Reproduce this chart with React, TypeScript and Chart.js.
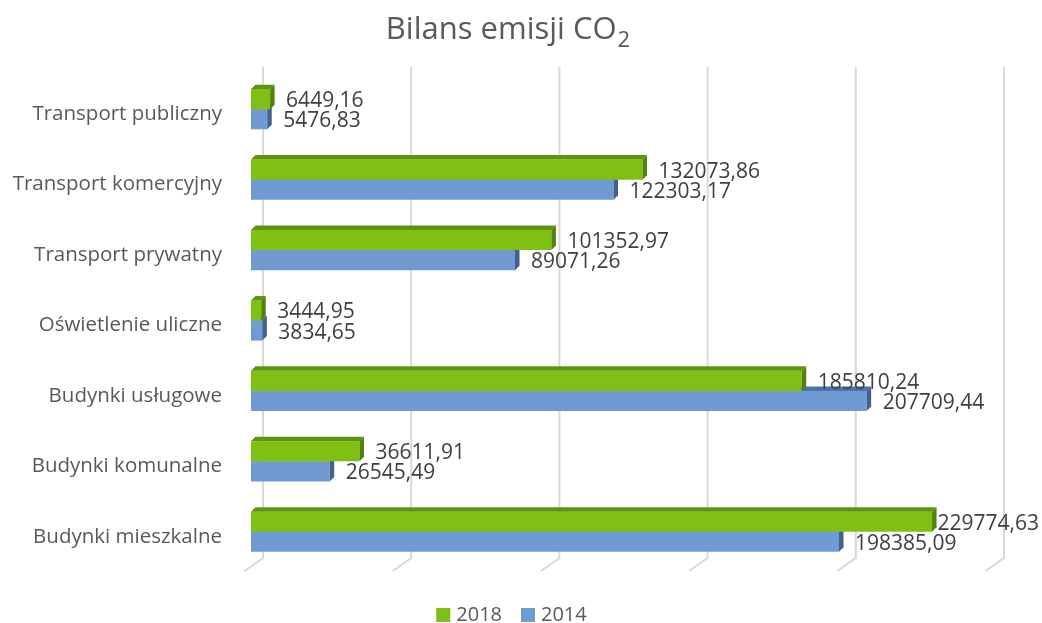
import React, { useEffect, useRef } from "react";
import { Chart, registerables } from "chart.js";

Chart.register(...registerables);

const categories = [
  "Transport publiczny",
  "Transport komercyjny",
  "Transport prywatny",
  "Oświetlenie uliczne",
  "Budynki usługowe",
  "Budynki komunalne",
  "Budynki mieszkalne",
];
const values2018 = [6449.16, 132073.86, 101352.97, 3444.95, 185810.24, 36611.91, 229774.63];
const values2014 = [5476.83, 122303.17, 89071.26, 3834.65, 207709.44, 26545.49, 198385.09];
const seriesLabels = ["2018", "2014"];
const axisMax = 250000;
const axisStep = 50000;
const titleMain = "Bilans emisji CO";
const titleSub = "2";

const FONT = "'Open Sans', sans-serif";
const DEPTH = 4.5;
const frontColors = ["#80c014", "#709bd2"];
const faceColors = [
  { top: "#5f9410", side: "#52820c" },
  { top: "#4d73a9", side: "#41628f" },
];

const fmt = (v: number) => v.toFixed(2).replace(".", ",");

const threeDPlugin = {
  id: "threeD",
  beforeDatasetsDraw(chart: any) {
    const { ctx, chartArea } = chart;
    const x = chart.scales.x;
    ctx.save();
    ctx.strokeStyle = "#d9d9d9";
    ctx.lineWidth = 2;
    for (let v = 0; v <= axisMax; v += axisStep) {
      const xf = x.getPixelForValue(v);
      ctx.beginPath();
      ctx.moveTo(xf + 12, chartArea.top - 7);
      ctx.lineTo(xf + 12, chartArea.bottom - 9);
      ctx.lineTo(xf - 6.5, chartArea.bottom + 4);
      ctx.stroke();
    }
    ctx.restore();
  },
  afterDatasetDraw(chart: any, args: any) {
    const { ctx } = chart;
    const c = faceColors[args.index];
    ctx.save();
    args.meta.data.forEach((el: any) => {
      const { x, y, base, height } = el.getProps(["x", "y", "base", "height"], true);
      const top = y - height / 2;
      const bot = y + height / 2;
      ctx.fillStyle = c.top;
      ctx.beginPath();
      ctx.moveTo(base, top);
      ctx.lineTo(base + DEPTH, top - DEPTH);
      ctx.lineTo(x + DEPTH, top - DEPTH);
      ctx.lineTo(x, top);
      ctx.closePath();
      ctx.fill();
      ctx.fillStyle = c.side;
      ctx.beginPath();
      ctx.moveTo(x, top);
      ctx.lineTo(x + DEPTH, top - DEPTH);
      ctx.lineTo(x + DEPTH, bot - DEPTH);
      ctx.lineTo(x, bot);
      ctx.closePath();
      ctx.fill();
    });
    ctx.restore();
  },
  afterDatasetsDraw(chart: any) {
    const { ctx } = chart;
    ctx.save();
    ctx.font = `21px ${FONT}`;
    ctx.fillStyle = "#404040";
    ctx.textAlign = "left";
    ctx.textBaseline = "middle";
    chart.data.datasets.forEach((ds: any, di: number) => {
      const meta = chart.getDatasetMeta(di);
      meta.data.forEach((el: any, i: number) => {
        const { x, y } = el.getProps(["x", "y"], true);
        const text = fmt(ds.data[i]);
        const w = ctx.measureText(text).width;
        const tx = Math.min(x + 16, chart.width - 3 - w);
        ctx.fillText(text, tx, y + 2);
      });
    });
    ctx.restore();
  },
  afterDraw(chart: any) {
    const { ctx } = chart;
    ctx.save();
    // Title
    ctx.fillStyle = "#595959";
    ctx.textBaseline = "alphabetic";
    ctx.textAlign = "left";
    ctx.font = `31px ${FONT}`;
    const w1 = ctx.measureText(titleMain).width;
    ctx.font = `22px ${FONT}`;
    const w2 = ctx.measureText(titleSub).width;
    const sx = 508 - (w1 + w2 + 1) / 2;
    ctx.font = `31px ${FONT}`;
    ctx.fillText(titleMain, sx, 39);
    ctx.font = `22px ${FONT}`;
    ctx.fillText(titleSub, sx + w1 + 1, 47);
    // Legend
    ctx.font = `20px ${FONT}`;
    ctx.textBaseline = "middle";
    const box = 14;
    const gap = 6;
    const spacing = 19;
    const items = chart.data.datasets.map((ds: any) => ({
      text: ds.label,
      color: ds.backgroundColor,
      w: box + gap + ctx.measureText(ds.label).width,
    }));
    const total = items.reduce((s: number, it: any) => s + it.w, 0) + spacing * (items.length - 1);
    let lx = 511.5 - total / 2;
    const cy = 615;
    items.forEach((it: any) => {
      ctx.fillStyle = it.color;
      ctx.fillRect(lx, cy - box / 2, box, box);
      ctx.fillStyle = "#595959";
      ctx.fillText(it.text, lx + box + gap, cy);
      lx += it.w + spacing;
    });
    ctx.restore();
  },
};

export default function App() {
  const ref = useRef<HTMLCanvasElement | null>(null);
  useEffect(() => {
    if (!ref.current) return;
    const chart = new Chart(ref.current, {
      type: "bar",
      data: {
        labels: categories,
        datasets: [
          {
            label: seriesLabels[0],
            data: values2018,
            backgroundColor: frontColors[0],
            categoryPercentage: 0.57,
            barPercentage: 1,
          },
          {
            label: seriesLabels[1],
            data: values2014,
            backgroundColor: frontColors[1],
            categoryPercentage: 0.57,
            barPercentage: 1,
          },
        ],
      },
      options: {
        indexAxis: "y",
        responsive: false,
        animation: false,
        layout: { padding: { top: 74, bottom: 56, left: 0, right: 50 } },
        plugins: {
          legend: { display: false },
          title: { display: false },
          tooltip: { enabled: false },
        },
        scales: {
          x: {
            display: false,
            min: 0,
            max: axisMax,
            ticks: { stepSize: axisStep },
          },
          y: {
            afterFit: (s: any) => {
              s.width = 251;
            },
            grid: { display: false, drawTicks: false },
            border: { display: false },
            ticks: {
              padding: 29,
              labelOffset: 5,
              color: "#595959",
              font: { family: FONT, size: 20.5 },
            },
          },
        },
      },
      plugins: [threeDPlugin],
    } as any);
    return () => chart.destroy();
  }, []);
  return (
    <canvas
      ref={ref}
      width={1042}
      height={623}
      style={{ position: "fixed", left: 0, top: 0, display: "block", background: "#fff" }}
    />
  );
}
